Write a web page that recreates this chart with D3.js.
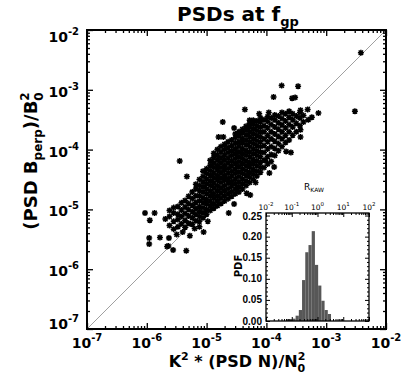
<!DOCTYPE html>
<html>
<head>
<meta charset="utf-8">
<script src="https://cdn.jsdelivr.net/npm/d3@7"></script>
<style>
  body { margin: 0; background: #fff; }
  svg { display: block; font-family: "DejaVu Sans", sans-serif; }
</style>
</head>
<body>
<svg id="chart" width="407" height="390"></svg>
<script>
// ---- data (log10 values) ----
const mainDecades = [-7, -6, -5, -4, -3, -2];
const insetDecades = [-2, -1, 0, 1, 2];
const pdfTicks = [0, 0.05, 0.10, 0.15, 0.20, 0.25];

// histogram of R_KAW: bin edges in log10(R) and PDF of each bin
const rkawBinEdges = [-1.225, -1.1, -0.975, -0.85, -0.725, -0.6, -0.475, -0.35, -0.225, -0.1, 0.025, 0.15, 0.275, 0.4, 0.525];
const rkawPdf = [0.004, 0.003, 0.0055, 0.0126, 0.026, 0.097, 0.163, 0.18, 0.213, 0.133, 0.084, 0.048, 0.026, 0.0166];

// isolated points [log10(K^2 PSD N / N0^2), log10(PSD Bperp / B0^2)]
const scatterSingles = [
  [-6.03,-5.06],[-5.95,-5.18],[-5.87,-5.06],[-5.69,-5.16],[-5.96,-5.48],[-5.96,-5.58],[-5.78,-5.47],
  [-5.63,-5.48],[-5.64,-5.61],[-5.66,-5.62],[-5.56,-5.68],[-5.34,-5.69],[-5.28,-5.44],[-5.05,-5.38],
  [-5.2,-5.32],[-5.45,-4.19],[-5.33,-4.45],[-4.54,-4.91],[-4.63,-5.06],
  [-2.42,-2.38],[-3.745,-2.93],[-3.47,-2.94],[-3.88,-3.12],[-3.57,-3.14],[-3.52,-3.13],[-4.36,-3.33],
  [-2.52,-3.36],[-3.13,-3.39],[-3.31,-3.33],[-3.43,-3.34],[-4.73,-3.54],[-4.54,-3.64],[-4.8,-3.79],
  [-4.72,-3.79],[-3.43,-3.67],[-3.43,-3.79],[-3.67,-4.03],[-3.59,-4.05],[-4.33,-4.73],[-4.27,-4.76],
  [-4.49,-4.68],[-4.18,-4.55],[-3.95,-4.39],[-3.87,-4.29],[-4.02,-4.18],[-3.24,-3.46],[-3.3,-3.5],
  [-4.12,-3.4],[-3.96,-3.38],[-4.28,-3.51],[-5.5,-5.42],[-5.4,-5.38],[-5.12,-5.29],[-4.98,-5.2]
];

// the dense cloud, one entry per column: [log10 x, [log10 y ...]]
const scatterColumns = [
  [-5.62, [-5.27, -5.12, -5.02]],
  [-5.55, [-5.33, -5.2, -5.06, -4.97]],
  [-5.48, [-5.29, -5.17, -5.08, -4.95]],
  [-5.42, [-5.24, -5.12, -5.01, -4.89]],
  [-5.36, [-5.3, -5.18, -5.07, -4.96, -4.85]],
  [-5.3, [-5.23, -5.11, -5.0, -4.9, -4.78]],
  [-5.24, [-5.25, -5.14, -5.04, -4.93, -4.82, -4.71]],
  [-5.18, [-5.19, -5.08, -4.98, -4.88, -4.77, -4.66, -4.58]],
  [-5.12, [-5.2, -5.12, -5.03, -4.95, -4.86, -4.77, -4.68, -4.6, -4.5]],
  [-5.06, [-5.14, -5.05, -4.97, -4.88, -4.8, -4.71, -4.62, -4.54, -4.45, -4.36]],
  [-5.0, [-5.08, -5.0, -4.91, -4.83, -4.74, -4.66, -4.57, -4.49, -4.4, -4.32]],
  [-4.94, [-5.02, -4.94, -4.86, -4.77, -4.69, -4.6, -4.52, -4.43, -4.35, -4.26, -4.18]],
  [-4.88, [-4.98, -4.9, -4.81, -4.73, -4.64, -4.56, -4.47, -4.39, -4.3, -4.22, -4.13, -4.06]],
  [-4.82, [-4.94, -4.85, -4.77, -4.68, -4.6, -4.51, -4.43, -4.34, -4.26, -4.17, -4.09, -4.0]],
  [-4.76, [-4.9, -4.81, -4.72, -4.64, -4.55, -4.47, -4.38, -4.3, -4.21, -4.13, -4.04, -3.95]],
  [-4.7, [-4.86, -4.77, -4.68, -4.6, -4.51, -4.43, -4.34, -4.26, -4.17, -4.09, -4.0, -3.91]],
  [-4.64, [-4.82, -4.73, -4.65, -4.56, -4.48, -4.39, -4.31, -4.22, -4.14, -4.05, -3.96, -3.87]],
  [-4.58, [-4.78, -4.7, -4.61, -4.53, -4.44, -4.36, -4.27, -4.19, -4.1, -4.02, -3.93, -3.84]],
  [-4.52, [-4.74, -4.66, -4.57, -4.49, -4.4, -4.32, -4.23, -4.15, -4.06, -3.98, -3.89, -3.8, -3.74]],
  [-4.46, [-4.71, -4.62, -4.54, -4.45, -4.37, -4.28, -4.2, -4.11, -4.03, -3.94, -3.86, -3.77, -3.7]],
  [-4.4, [-4.66, -4.57, -4.49, -4.4, -4.32, -4.23, -4.15, -4.06, -3.98, -3.89, -3.81, -3.72, -3.66]],
  [-4.34, [-4.6, -4.52, -4.43, -4.35, -4.26, -4.18, -4.09, -4.01, -3.92, -3.84, -3.75, -3.67, -3.61]],
  [-4.28, [-4.55, -4.46, -4.38, -4.29, -4.21, -4.12, -4.04, -3.95, -3.87, -3.78, -3.7, -3.62, -3.56]],
  [-4.22, [-4.5, -4.41, -4.33, -4.24, -4.16, -4.07, -3.99, -3.9, -3.82, -3.73, -3.65, -3.57, -3.51]],
  [-4.16, [-4.44, -4.36, -4.27, -4.19, -4.1, -4.02, -3.93, -3.85, -3.76, -3.68, -3.6, -3.52]],
  [-4.1, [-4.38, -4.3, -4.21, -4.12, -4.04, -3.95, -3.87, -3.78, -3.7, -3.62, -3.54, -3.47]],
  [-4.04, [-4.3, -4.18, -4.05, -3.93, -3.82, -3.7, -3.6, -3.5]],
  [-3.98, [-4.24, -4.12, -3.99, -3.87, -3.76, -3.64, -3.53, -3.45]],
  [-3.92, [-4.2, -4.08, -3.95, -3.82, -3.7, -3.58, -3.47]],
  [-3.86, [-4.1, -3.98, -3.86, -3.74, -3.62, -3.5, -3.42]],
  [-3.8, [-4.02, -3.9, -3.78, -3.66, -3.55, -3.44]],
  [-3.74, [-3.95, -3.82, -3.7, -3.59, -3.48, -3.38]],
  [-3.68, [-3.88, -3.76, -3.64, -3.52, -3.4]],
  [-3.62, [-3.84, -3.7, -3.58, -3.46, -3.36]],
  [-3.56, [-3.76, -3.62, -3.5, -3.4]],
  [-3.5, [-3.7, -3.56, -3.44]],
  [-3.44, [-3.6, -3.47, -3.38]],
  [-3.38, [-3.54, -3.43]]
];

// ---- chart ----
const svg = d3.select('svg#chart');
const x = d3.scaleLog().domain([1e-7, 1e-2]).range([87, 386]);
const y = d3.scaleLog().domain([1e-7, 1e-2]).range([329, 30]);

const isMajor = d => Math.abs(Math.log10(d) - Math.round(Math.log10(d))) < 1e-6;

const points = scatterSingles.concat(
  scatterColumns.flatMap(c => c[1].map(v => [c[0], v]))
).map(p => [Math.pow(10, p[0]), Math.pow(10, p[1])]);

// 1:1 line
svg.append('line')
    .attr('x1', x(1e-7)).attr('y1', y(1e-7))
    .attr('x2', x(1e-2)).attr('y2', y(1e-2))
    .attr('stroke', '#a0a0a0').attr('stroke-width', 1);

const star = 'M-3,0H3M0,-3V3M-2.2,-2.2L2.2,2.2M-2.2,2.2L2.2,-2.2';
svg.append('g').selectAll('path')
    .data(points)
    .join('path')
    .attr('transform', d => `translate(${x(d[0])},${y(d[1])})`)
    .attr('d', star)
    .attr('stroke', '#000')
    .attr('stroke-width', 1.5)
    .attr('fill', 'none');

// main axes ticks (inward, all four sides)
const mainTicks = x.ticks();
const majorT = mainTicks.filter(isMajor);
const minorT = mainTicks.filter(d => !isMajor(d));
function tickSet(axisFn, scale, pos, vals, len) {
  const g = svg.append('g').attr('transform', pos)
      .call(axisFn(scale).tickValues(vals).tickSize(-len).tickFormat(''));
  g.select('.domain').remove();
  g.selectAll('line').attr('stroke', '#000').attr('stroke-width', 1.3);
}
[[majorT, 6], [minorT, 3]].forEach(([vals, len]) => {
  tickSet(d3.axisBottom, x, `translate(0,${y.range()[0]})`, vals, len);
  tickSet(d3.axisTop, x, `translate(0,${y.range()[1]})`, vals, len);
  tickSet(d3.axisLeft, y, `translate(${x.range()[0]},0)`, vals, len);
  tickSet(d3.axisRight, y, `translate(${x.range()[1]},0)`, vals, len);
});

function powLabel(t, e, supSize, rise) {
  t.append('tspan').text('10');
  t.append('tspan').attr('font-size', supSize).attr('dy', -rise).text(e);
}

// x tick labels
mainDecades.forEach(e => {
  const t = svg.append('text')
      .attr('x', x(Math.pow(10, e))).attr('y', 348)
      .attr('text-anchor', 'middle')
      .attr('font-size', 14).attr('font-weight', 'bold');
  powLabel(t, e, 10, 7);
});
// y tick labels (end labels pulled inside the frame)
mainDecades.forEach(e => {
  const cy = Math.min(y.range()[0] - 7, Math.max(y.range()[1] + 5, y(Math.pow(10, e))));
  const t = svg.append('text')
      .attr('x', 79).attr('y', cy + 7)
      .attr('text-anchor', 'end')
      .attr('font-size', 14).attr('font-weight', 'bold');
  powLabel(t, e, 10, 7);
});

// title
const title = svg.append('text')
    .attr('x', 238).attr('y', 21)
    .attr('text-anchor', 'middle')
    .attr('font-size', 20).attr('font-weight', 'bold');
title.append('tspan').text('PSDs at f');
title.append('tspan').attr('font-size', 13).attr('dy', 5).text('gp');

// x title
const xt = svg.append('text')
    .attr('x', 237).attr('y', 367)
    .attr('text-anchor', 'middle')
    .attr('font-size', 16).attr('font-weight', 'bold');
xt.append('tspan').text('K');
xt.append('tspan').attr('font-size', 11).attr('dy', -7).text('2');
xt.append('tspan').attr('dy', 7).text(' * (PSD N)/N');
xt.append('tspan').attr('font-size', 11).attr('dy', -7).text('2');
xt.append('tspan').attr('font-size', 11).attr('dx', -7.7).attr('dy', 12).text('0');

// y title
const yt = svg.append('text')
    .attr('transform', 'translate(37,161) rotate(-90)')
    .attr('text-anchor', 'middle')
    .attr('font-size', 18).attr('font-weight', 'bold');
yt.append('tspan').text('(PSD B');
yt.append('tspan').attr('font-size', 12).attr('dy', 5).text('perp');
yt.append('tspan').attr('dy', -5).text(')/B');
yt.append('tspan').attr('font-size', 12).attr('dy', -8).text('2');
yt.append('tspan').attr('font-size', 12).attr('dx', -8.4).attr('dy', 14).text('0');

// main frame
svg.append('rect')
    .attr('x', x.range()[0]).attr('y', y.range()[1])
    .attr('width', x.range()[1] - x.range()[0])
    .attr('height', y.range()[0] - y.range()[1])
    .attr('fill', 'none').attr('stroke', '#000').attr('stroke-width', 2);

// ---- inset histogram ----
const ix = d3.scaleLog().domain([1e-2, 1e2]).range([266, 369]);
const iy = d3.scaleLinear().domain([0, 0.256]).range([321, 213]);

svg.append('rect')
    .attr('x', ix.range()[0]).attr('y', iy.range()[1])
    .attr('width', ix.range()[1] - ix.range()[0])
    .attr('height', iy.range()[0] - iy.range()[1])
    .attr('fill', '#fff');

svg.append('g').selectAll('rect')
    .data(rkawPdf)
    .join('rect')
    .attr('x', (d, i) => ix(Math.pow(10, rkawBinEdges[i])))
    .attr('width', (d, i) => ix(Math.pow(10, rkawBinEdges[i + 1])) - ix(Math.pow(10, rkawBinEdges[i])))
    .attr('y', d => iy(d))
    .attr('height', d => iy(0) - iy(d))
    .attr('fill', '#575757');

function insetTicks(axisFn, scale, pos, vals, len) {
  const g = svg.append('g').attr('transform', pos)
      .call(axisFn(scale).tickValues(vals).tickSize(-len).tickFormat(''));
  g.select('.domain').remove();
  g.selectAll('line').attr('stroke', '#000').attr('stroke-width', 1);
}
const iTicks = ix.ticks();
const pdfMinor = d3.range(0, 26).map(i => i / 100).filter(v => !pdfTicks.some(t => Math.abs(t - v) < 1e-9));
[[iTicks.filter(isMajor), 4], [iTicks.filter(d => !isMajor(d)), 2]].forEach(([vals, len]) => {
  insetTicks(d3.axisTop, ix, `translate(0,${iy.range()[1]})`, vals, len);
  insetTicks(d3.axisBottom, ix, `translate(0,${iy.range()[0]})`, vals, len);
});
[[pdfTicks, 4], [pdfMinor, 2]].forEach(([vals, len]) => {
  insetTicks(d3.axisLeft, iy, `translate(${ix.range()[0]},0)`, vals, len);
  insetTicks(d3.axisRight, iy, `translate(${ix.range()[1]},0)`, vals, len);
});

svg.append('rect')
    .attr('x', ix.range()[0]).attr('y', iy.range()[1])
    .attr('width', ix.range()[1] - ix.range()[0])
    .attr('height', iy.range()[0] - iy.range()[1])
    .attr('fill', 'none').attr('stroke', '#000').attr('stroke-width', 1.3);

// inset labels
insetDecades.forEach(e => {
  const t = svg.append('text')
      .attr('x', ix(Math.pow(10, e))).attr('y', 209.5)
      .attr('text-anchor', 'middle')
      .attr('font-size', 7.5);
  powLabel(t, e, 5.5, 3.5);
});
pdfTicks.forEach(v => {
  svg.append('text')
      .attr('x', 262).attr('y', iy(v) + 3.5 + (v === 0.25 ? 1 : 0))
      .attr('text-anchor', 'end')
      .attr('font-family', '"Liberation Sans", Arial, sans-serif')
      .attr('font-size', 10).attr('font-weight', 'bold')
      .text(v.toFixed(2));
});
svg.append('text')
    .attr('transform', 'translate(242,266) rotate(-90)')
    .attr('text-anchor', 'middle')
    .attr('font-size', 10).attr('font-weight', 'bold')
    .text('PDF');
const rk = svg.append('text')
    .attr('x', 314).attr('y', 190)
    .attr('text-anchor', 'middle')
    .attr('font-size', 9);
rk.append('tspan').text('R');
rk.append('tspan').attr('font-size', 6).attr('dy', 2).text('KAW');
</script>
</body>
</html>
